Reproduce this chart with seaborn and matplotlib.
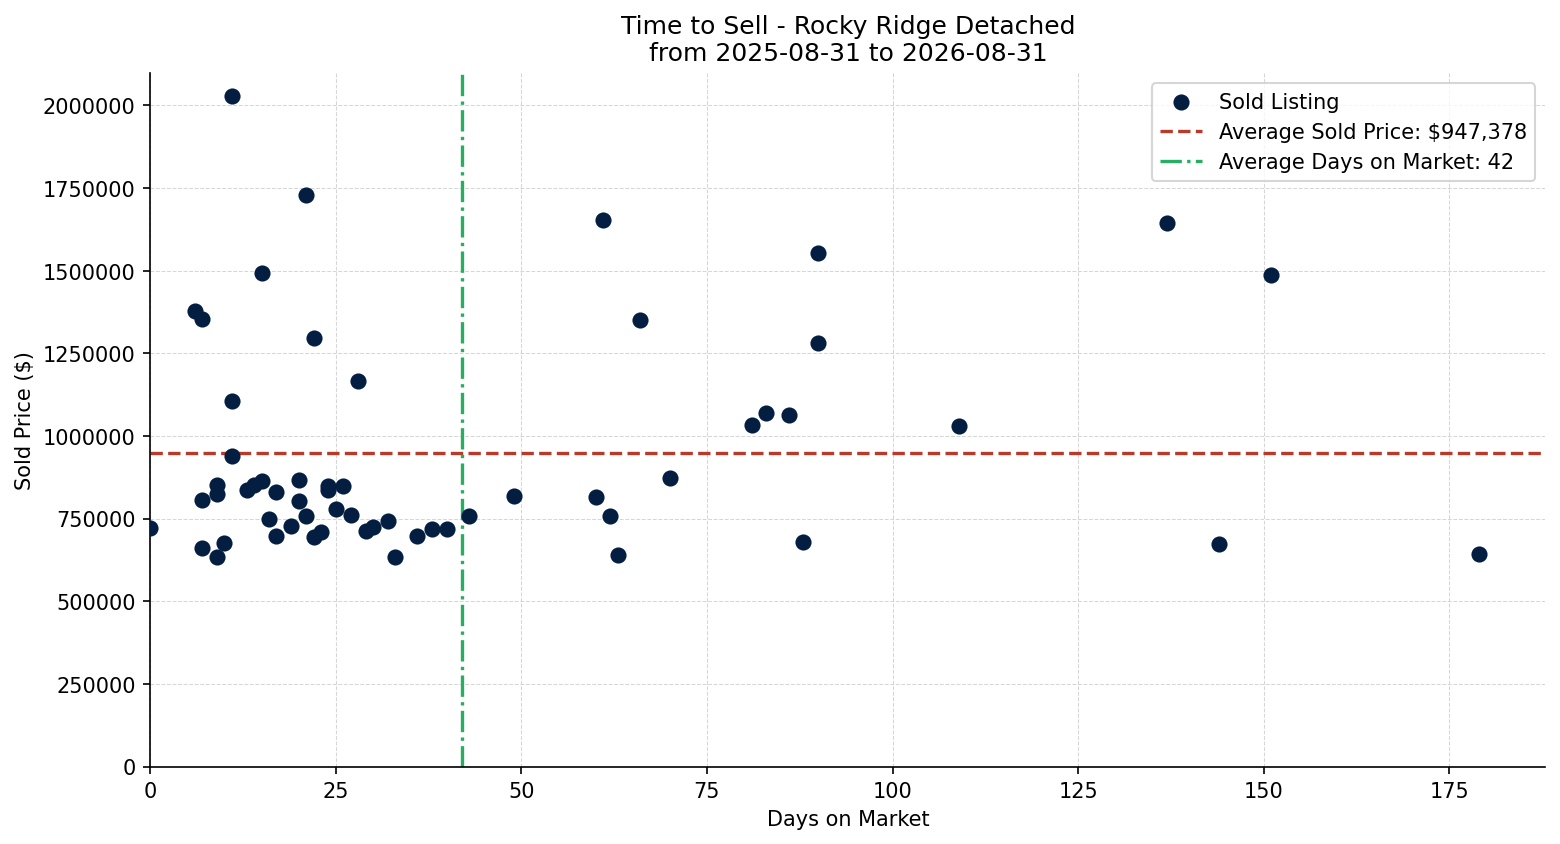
import numpy as np
import pandas as pd
import matplotlib
matplotlib.use("Agg")
import matplotlib.pyplot as plt
import seaborn as sns

# ===== DATA =====
days_on_market = [
    0, 6, 7, 7, 7, 9, 9, 9, 10, 11, 11, 11, 13, 14, 15, 15, 16, 17, 17, 19,
    20, 20, 21, 21, 22, 22, 23, 24, 24, 25, 26, 27, 28, 29, 30, 32, 33, 36,
    38, 40, 43, 49, 60, 61, 62, 63, 66, 70, 81, 83, 86, 88, 90, 90, 109,
    137, 144, 151, 179,
]
sold_price = [
    720000, 1378000, 1353000, 805000, 660000, 850000, 825000, 635000, 675000,
    2028000, 1104000, 940000, 837000, 850000, 1494000, 865000, 750000, 830000,
    698000, 728000, 867000, 803000, 1728000, 758000, 1297000, 695000, 710000,
    849000, 837000, 779000, 849000, 761000, 1166000, 713000, 725000, 743000,
    634000, 698000, 719000, 719000, 758000, 819000, 816000, 1652000, 758000,
    640000, 1350000, 873000, 1033000, 1069000, 1063000, 680000,
    1553000, 1280302, 1030000, 1643000, 674000, 1486000, 643000,
]

title = "Time to Sell - Rocky Ridge Detached\nfrom 2025-08-31 to 2026-08-31"

df = pd.DataFrame({"Days on Market": days_on_market, "Sold Price ($)": sold_price})
avg_price = df["Sold Price ($)"].mean()
avg_days = df["Days on Market"].mean()

# ===== PLOT =====
fig, ax = plt.subplots(figsize=(10.4, 5.633), dpi=150)

sns.scatterplot(
    data=df,
    x="Days on Market",
    y="Sold Price ($)",
    color="#041e42",
    s=60,
    linewidth=0,
    label="Sold Listing",
    ax=ax,
    zorder=3,
)
ax.axhline(
    avg_price,
    color="#b83a2b",
    linestyle="--",
    linewidth=1.6,
    label=f"Average Sold Price: ${avg_price:,.0f}",
)
ax.axvline(
    avg_days,
    color="#27ae60",
    linestyle="-.",
    linewidth=1.6,
    label=f"Average Days on Market: {avg_days:.0f}",
)

ax.set_xlim(left=0)
ax.set_ylim(bottom=0)
ax.ticklabel_format(style="plain", axis="y", useOffset=False)
ax.grid(True, linestyle="--", linewidth=0.5, color="#cccccc", alpha=0.8)
ax.set_axisbelow(True)
sns.despine(ax=ax)

ax.set_title(title, fontsize=12)
ax.set_xlabel("Days on Market", fontsize=10)
ax.set_ylabel("Sold Price ($)", fontsize=10)
ax.legend(loc="upper right", fontsize=10)

plt.tight_layout(pad=0.7)
fig.savefig("out.png", dpi=150, facecolor="white")
